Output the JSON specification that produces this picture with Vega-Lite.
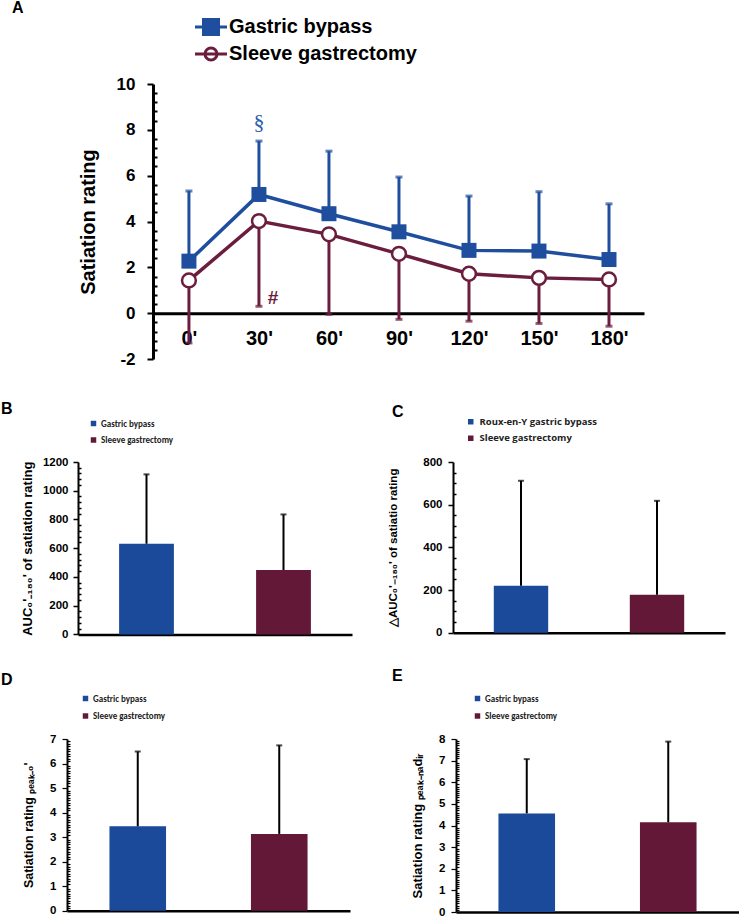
{
  "$schema": "https://vega.github.io/schema/vega-lite/v6.json",
  "padding": 0,
  "background": "white",
  "config": {
    "view": {"stroke": null},
    "font": "Liberation Sans",
    "axis": {"grid": false, "domainColor": "black", "tickColor": "black", "labelColor": "black", "titleColor": "black", "labelFont": "Liberation Sans", "titleFont": "Liberation Sans", "labelOverlap": false, "labelFlush": false},
    "title": {"font": "Liberation Sans", "fontWeight": "bold", "fontSize": 16, "anchor": "start", "frame": "group", "color": "black"}
  },
  "datasets": {
    "timecourse": [
      {"group": "Gastric bypass", "t": 0, "mean": 2.27, "hi": 5.33},
      {"group": "Gastric bypass", "t": 30, "mean": 5.18, "hi": 7.51},
      {"group": "Gastric bypass", "t": 60, "mean": 4.34, "hi": 7.07},
      {"group": "Gastric bypass", "t": 90, "mean": 3.55, "hi": 5.94},
      {"group": "Gastric bypass", "t": 120, "mean": 2.74, "hi": 5.11},
      {"group": "Gastric bypass", "t": 150, "mean": 2.71, "hi": 5.3},
      {"group": "Gastric bypass", "t": 180, "mean": 2.34, "hi": 4.77},
      {"group": "Sleeve gastrectomy", "t": 0, "mean": 1.43, "lo": -1.3},
      {"group": "Sleeve gastrectomy", "t": 30, "mean": 4.02, "lo": 0.3},
      {"group": "Sleeve gastrectomy", "t": 60, "mean": 3.44, "lo": -0.05},
      {"group": "Sleeve gastrectomy", "t": 90, "mean": 2.59, "lo": -0.27},
      {"group": "Sleeve gastrectomy", "t": 120, "mean": 1.72, "lo": -0.35},
      {"group": "Sleeve gastrectomy", "t": 150, "mean": 1.54, "lo": -0.45},
      {"group": "Sleeve gastrectomy", "t": 180, "mean": 1.47, "lo": -0.57}
    ],
    "signif": [
      {"label": "§", "t": 30, "y": 8.34},
      {"label": "#", "t": 30, "y": 0.65}
    ],
    "auc": [
      {"group": "Gastric bypass", "mean": 631, "upper": 1114},
      {"group": "Sleeve gastrectomy", "mean": 448, "upper": 835}
    ],
    "dauc": [
      {"group": "Roux-en-Y gastric bypass", "mean": 220, "upper": 712},
      {"group": "Sleeve gastrectomy", "mean": 178, "upper": 618}
    ],
    "peak0": [
      {"group": "Gastric bypass", "mean": 3.44, "upper": 6.49},
      {"group": "Sleeve gastrectomy", "mean": 3.13, "upper": 6.74}
    ],
    "peaknadir": [
      {"group": "Gastric bypass", "mean": 4.56, "upper": 7.07},
      {"group": "Sleeve gastrectomy", "mean": 4.15, "upper": 7.88}
    ],
    "empty": []
  },
  "spacing": 34,
  "resolve": {"scale": {"color": "independent"}},
  "vconcat": [
    {
      "spacing": 0,
      "resolve": {"scale": {"color": "independent"}},
      "hconcat": [
        {"width": 12, "height": 1, "data": {"name": "empty"}, "mark": {"type": "point", "opacity": 0}},
        {
          "width": 491,
          "height": 275,
          "title": {"text": "A", "dx": -141, "offset": 1},
          "data": {"name": "timecourse"},
          "encoding": {
            "x": {"field": "t", "type": "quantitative", "scale": {"domain": [-15.4, 195], "nice": false, "zero": false}, "title": null,
              "axis": {"values": [0, 30, 60, 90, 120, 150, 180], "labelExpr": "datum.value + \"'\"", "offset": -45.8, "domainWidth": 3, "ticks": false, "tickSize": 0, "labelFontSize": 20, "labelFontWeight": "bold", "labelPadding": 15, "title": null}},
            "y": {"field": "mean", "type": "quantitative", "scale": {"domain": [-2, 10], "nice": false, "zero": false}, "title": "Satiation rating",
              "axis": {"values": [-2, -1.6, -1.2, -0.8, -0.4, 0, 0.4, 0.8, 1.2, 1.6, 2, 2.4, 2.8, 3.2, 3.6, 4, 4.4, 4.8, 5.2, 5.6, 6, 6.4, 6.8, 7.2, 7.6, 8, 8.4, 8.8, 9.2, 9.6, 10],
                "labelExpr": "datum.value % 2 === 0 ? '' + datum.value : ''",
                "tickSize": {"condition": {"test": "datum.value % 2 === 0", "value": 6}, "value": -4},
                "tickWidth": 2, "domainWidth": 3, "labelFontSize": 17, "labelFontWeight": "bold", "labelPadding": 12,
                "titleFontSize": 20, "titleFontWeight": "bold", "titlePadding": 18, "title": "Satiation rating"}}
          },
          "layer": [
            {
              "mark": {"type": "line", "strokeWidth": 3.5},
              "encoding": {
                "color": {"field": "group", "type": "nominal", "scale": {"domain": ["Gastric bypass", "Sleeve gastrectomy"], "range": ["#1F4E9F", "#6B1D3D"]},
                  "legend": {"orient": "none", "legendX": 48, "legendY": -67, "title": null, "labelFont": "Liberation Sans", "labelFontSize": 20, "labelFontWeight": "bold", "labelColor": "black", "labelLimit": 400,
                    "symbolSize": 256, "symbolStrokeWidth": 3, "labelOffset": 8, "rowPadding": 1, "symbolType": "M-2,0H2",
                    "encode": {"symbols": {"update": {
                      "shape": {"signal": "datum.value === 'Gastric bypass' ? 'M-2,0H2M-0.94,-0.94H0.94V0.94H-0.94Z' : 'M-2,0H2M0.75,0A0.75,0.75,0,1,1,-0.75,0A0.75,0.75,0,1,1,0.75,0'"},
                      "fill": {"signal": "datum.value === 'Gastric bypass' ? '#1F4E9F' : 'white'"},
                      "stroke": {"signal": "datum.value === 'Gastric bypass' ? '#1F4E9F' : '#6B1D3D'"},
                      "strokeWidth": {"value": 3},
                      "opacity": {"value": 1},
                      "fillOpacity": {"value": 1}
                    }}}}}
              }
            },
            {
              "transform": [{"filter": "datum.group === 'Gastric bypass'"}],
              "mark": {"type": "rule", "color": "#1F4E9F", "strokeWidth": 3},
              "encoding": {"y2": {"field": "hi"}}
            },
            {
              "transform": [{"filter": "datum.group === 'Gastric bypass'"}],
              "mark": {"type": "tick", "color": "#1F4E9F", "orient": "horizontal", "size": 7, "thickness": 3},
              "encoding": {"y": {"field": "hi", "type": "quantitative", "title": "Satiation rating"}}
            },
            {
              "transform": [{"filter": "datum.group === 'Sleeve gastrectomy'"}],
              "mark": {"type": "rule", "color": "#6B1D3D", "strokeWidth": 3},
              "encoding": {"y": {"field": "lo", "type": "quantitative", "title": "Satiation rating"}, "y2": {"field": "mean"}}
            },
            {
              "transform": [{"filter": "datum.group === 'Sleeve gastrectomy'"}],
              "mark": {"type": "tick", "color": "#6B1D3D", "orient": "horizontal", "size": 7, "thickness": 3},
              "encoding": {"y": {"field": "lo", "type": "quantitative", "title": "Satiation rating"}}
            },
            {
              "transform": [{"filter": "datum.group === 'Gastric bypass'"}],
              "mark": {"type": "square", "size": 225, "filled": true, "color": "#1F4E9F", "opacity": 1}
            },
            {
              "transform": [{"filter": "datum.group === 'Sleeve gastrectomy'"}],
              "mark": {"type": "point", "shape": "circle", "size": 190, "filled": true, "fill": "white", "stroke": "#6B1D3D", "strokeWidth": 2.5, "opacity": 1}
            },
            {
              "data": {"name": "signif"},
              "transform": [{"filter": "datum.label === '§'"}],
              "mark": {"type": "text", "font": "Liberation Serif", "fontSize": 22, "color": "#2F5EAA", "baseline": "middle"},
              "encoding": {
                "y": {"field": "y", "type": "quantitative", "title": "Satiation rating"},
                "text": {"field": "label"}
              }
            },
            {
              "data": {"name": "signif"},
              "transform": [{"filter": "datum.label === '#'"}],
              "mark": {"type": "text", "font": "Liberation Sans", "fontWeight": "bold", "fontSize": 19, "color": "#6B1D3D", "baseline": "middle", "dx": 14},
              "encoding": {
                "y": {"field": "y", "type": "quantitative", "title": "Satiation rating"},
                "text": {"field": "label"}
              }
            }
          ]
        }
      ]
    },
    {
      "spacing": 28,
      "resolve": {"scale": {"color": "independent"}},
      "vconcat": [
        {
          "spacing": 0,
          "resolve": {"scale": {"color": "independent"}},
          "hconcat": [
            {"width": 1, "height": 1, "data": {"name": "empty"}, "mark": {"type": "point", "opacity": 0}},
            {
              "width": 274,
              "height": 172.4,
              "title": {"text": "B", "dx": -77, "offset": 2},
              "data": {"name": "auc"},
              "encoding": {
                "x": {"field": "group", "type": "nominal", "sort": null, "scale": {"paddingInner": 0.6, "paddingOuter": 0.3}, "axis": {"title": null, "labels": false, "ticks": false, "domainWidth": 2.5}},
                "y": {"field": "mean", "type": "quantitative", "scale": {"domain": [0, 1200], "nice": false}, "title": "AUC₀'₋₁₈₀' of satiation rating",
                  "axis": {"values": [0, 40, 80, 120, 160, 200, 240, 280, 320, 360, 400, 440, 480, 520, 560, 600, 640, 680, 720, 760, 800, 840, 880, 920, 960, 1000, 1040, 1080, 1120, 1160, 1200],
                    "labelExpr": "datum.value % 200 === 0 ? '' + datum.value : ''",
                    "tickSize": {"condition": {"test": "datum.value % 200 === 0", "value": 5}, "value": -3},
                    "tickWidth": 1.5, "domainWidth": 2, "labelFontSize": 11.5, "labelFontWeight": "bold", "labelPadding": 5,
                    "titleFontSize": 13, "titleFontWeight": "bold", "titlePadding": 8}}
              },
              "layer": [
                {
                  "mark": {"type": "bar"},
                  "encoding": {
                    "color": {"field": "group", "type": "nominal", "sort": null, "scale": {"domain": ["Gastric bypass", "Sleeve gastrectomy"], "range": ["#1B4A9A", "#621836"]},
                      "legend": {"orient": "none", "legendX": 11, "legendY": -43, "title": null, "symbolType": "square", "symbolSize": 30, "symbolStrokeWidth": 0, "labelFont": "Carlito, Liberation Sans", "labelFontSize": 9, "labelFontWeight": "bold", "labelColor": "#222222", "rowPadding": 6.5, "labelOffset": 3}}
                  }
                },
                {
                  "mark": {"type": "rule", "color": "black", "strokeWidth": 2},
                  "encoding": {"y2": {"field": "upper"}}
                },
                {
                  "mark": {"type": "tick", "color": "black", "orient": "horizontal", "size": 6, "thickness": 2},
                  "encoding": {"y": {"field": "upper", "type": "quantitative", "title": "AUC₀'₋₁₈₀' of satiation rating"}}
                }
              ]
            },
            {"width": 35, "height": 1, "data": {"name": "empty"}, "mark": {"type": "point", "opacity": 0}},
            {
              "width": 272,
              "height": 170.7,
              "title": {"text": "C", "dx": -61, "offset": -3},
              "data": {"name": "dauc"},
              "encoding": {
                "x": {"field": "group", "type": "nominal", "sort": null, "scale": {"paddingInner": 0.6, "paddingOuter": 0.3}, "axis": {"title": null, "labels": false, "ticks": false, "domainWidth": 2.5}},
                "y": {"field": "mean", "type": "quantitative", "scale": {"domain": [0, 800], "nice": false}, "title": "△AUC₀'₋₁₈₀' of satiatio rating",
                  "axis": {"values": [0, 50, 100, 150, 200, 250, 300, 350, 400, 450, 500, 550, 600, 650, 700, 750, 800],
                    "labelExpr": "datum.value % 200 === 0 ? '' + datum.value : ''",
                    "tickSize": {"condition": {"test": "datum.value % 200 === 0", "value": 5}, "value": -3},
                    "tickWidth": 1.5, "domainWidth": 2, "labelFontSize": 11.5, "labelFontWeight": "bold", "labelPadding": 6,
                    "titleFontSize": 11.5, "titleFontWeight": "bold", "titlePadding": 24}}
              },
              "layer": [
                {
                  "mark": {"type": "bar"},
                  "encoding": {
                    "color": {"field": "group", "type": "nominal", "sort": null, "scale": {"domain": ["Roux-en-Y gastric bypass", "Sleeve gastrectomy"], "range": ["#1B4A9A", "#621836"]},
                      "legend": {"orient": "none", "legendX": 13, "legendY": -45, "title": null, "symbolType": "square", "symbolSize": 30, "symbolStrokeWidth": 0, "labelFont": "Open Sans", "labelFontSize": 9.5, "labelFontWeight": "bold", "labelColor": "#222222", "rowPadding": 5.5, "labelOffset": 4}}
                  }
                },
                {
                  "mark": {"type": "rule", "color": "black", "strokeWidth": 2},
                  "encoding": {"y2": {"field": "upper"}}
                },
                {
                  "mark": {"type": "tick", "color": "black", "orient": "horizontal", "size": 6, "thickness": 2},
                  "encoding": {"y": {"field": "upper", "type": "quantitative", "title": "△AUC₀'₋₁₈₀' of satiatio rating"}}
                }
              ]
            }
          ]
        },
        {
          "spacing": 0,
          "resolve": {"scale": {"color": "independent"}},
          "hconcat": [
            {"width": 1, "height": 1, "data": {"name": "empty"}, "mark": {"type": "point", "opacity": 0}},
            {
              "width": 283,
              "height": 171.7,
              "title": {"text": "D", "dx": -66, "offset": 6},
              "data": {"name": "peak0"},
              "encoding": {
                "x": {"field": "group", "type": "nominal", "sort": null, "scale": {"paddingInner": 0.6, "paddingOuter": 0.3}, "axis": {"title": null, "labels": false, "ticks": false, "domainWidth": 2.5}},
                "y": {"field": "mean", "type": "quantitative", "scale": {"domain": [0, 7], "nice": false}, "title": "Satiation rating ₚₑₐₖ₋₀'",
                  "axis": {"values": [0, 0.1, 0.2, 0.3, 0.4, 0.5, 0.6, 0.7, 0.8, 0.9, 1, 1.1, 1.2, 1.3, 1.4, 1.5, 1.6, 1.7, 1.8, 1.9, 2, 2.1, 2.2, 2.3, 2.4, 2.5, 2.6, 2.7, 2.8, 2.9, 3, 3.1, 3.2, 3.3, 3.4, 3.5, 3.6, 3.7, 3.8, 3.9, 4, 4.1, 4.2, 4.3, 4.4, 4.5, 4.6, 4.7, 4.8, 4.9, 5, 5.1, 5.2, 5.3, 5.4, 5.5, 5.6, 5.7, 5.8, 5.9, 6, 6.1, 6.2, 6.3, 6.4, 6.5, 6.6, 6.7, 6.8, 6.9, 7],
                    "labelExpr": "datum.value % 1 === 0 ? '' + datum.value : ''",
                    "tickSize": {"condition": {"test": "datum.value % 1 === 0", "value": 5}, "value": -3},
                    "tickWidth": 1.2, "domainWidth": 2, "labelFontSize": 11.5, "labelFontWeight": "bold", "labelPadding": 6,
                    "titleFontSize": 12.5, "titleFontWeight": "bold", "titlePadding": 14}}
              },
              "layer": [
                {
                  "mark": {"type": "bar"},
                  "encoding": {
                    "color": {"field": "group", "type": "nominal", "sort": null, "scale": {"domain": ["Gastric bypass", "Sleeve gastrectomy"], "range": ["#1B4A9A", "#621836"]},
                      "legend": {"orient": "none", "legendX": 14, "legendY": -45, "title": null, "symbolType": "square", "symbolSize": 30, "symbolStrokeWidth": 0, "labelFont": "Carlito, Liberation Sans", "labelFontSize": 9, "labelFontWeight": "bold", "labelColor": "#222222", "rowPadding": 7.5, "labelOffset": 3}}
                  }
                },
                {
                  "mark": {"type": "rule", "color": "black", "strokeWidth": 2},
                  "encoding": {"y2": {"field": "upper"}}
                },
                {
                  "mark": {"type": "tick", "color": "black", "orient": "horizontal", "size": 6, "thickness": 2},
                  "encoding": {"y": {"field": "upper", "type": "quantitative", "title": "Satiation rating ₚₑₐₖ₋₀'"}}
                }
              ]
            },
            {"width": 42, "height": 1, "data": {"name": "empty"}, "mark": {"type": "point", "opacity": 0}},
            {
              "width": 283,
              "height": 173,
              "title": {"text": "E", "dx": -64, "offset": 10},
              "data": {"name": "peaknadir"},
              "encoding": {
                "x": {"field": "group", "type": "nominal", "sort": null, "scale": {"paddingInner": 0.6, "paddingOuter": 0.3}, "axis": {"title": null, "labels": false, "ticks": false, "domainWidth": 2.5}},
                "y": {"field": "mean", "type": "quantitative", "scale": {"domain": [0, 8], "nice": false}, "title": "Satiation rating ₚₑₐₖ₋ₙₐdᵢᵣ",
                  "axis": {"values": [0, 0.1, 0.2, 0.3, 0.4, 0.5, 0.6, 0.7, 0.8, 0.9, 1, 1.1, 1.2, 1.3, 1.4, 1.5, 1.6, 1.7, 1.8, 1.9, 2, 2.1, 2.2, 2.3, 2.4, 2.5, 2.6, 2.7, 2.8, 2.9, 3, 3.1, 3.2, 3.3, 3.4, 3.5, 3.6, 3.7, 3.8, 3.9, 4, 4.1, 4.2, 4.3, 4.4, 4.5, 4.6, 4.7, 4.8, 4.9, 5, 5.1, 5.2, 5.3, 5.4, 5.5, 5.6, 5.7, 5.8, 5.9, 6, 6.1, 6.2, 6.3, 6.4, 6.5, 6.6, 6.7, 6.8, 6.9, 7, 7.1, 7.2, 7.3, 7.4, 7.5, 7.6, 7.7, 7.8, 7.9, 8],
                    "labelExpr": "datum.value % 1 === 0 ? '' + datum.value : ''",
                    "tickSize": {"condition": {"test": "datum.value % 1 === 0", "value": 5}, "value": -3},
                    "tickWidth": 1.2, "domainWidth": 2, "labelFontSize": 11.5, "labelFontWeight": "bold", "labelPadding": 6,
                    "titleFontSize": 13, "titleFontWeight": "bold", "titlePadding": 14}}
              },
              "layer": [
                {
                  "mark": {"type": "bar"},
                  "encoding": {
                    "color": {"field": "group", "type": "nominal", "sort": null, "scale": {"domain": ["Gastric bypass", "Sleeve gastrectomy"], "range": ["#1B4A9A", "#621836"]},
                      "legend": {"orient": "none", "legendX": 17, "legendY": -45, "title": null, "symbolType": "square", "symbolSize": 30, "symbolStrokeWidth": 0, "labelFont": "Carlito, Liberation Sans", "labelFontSize": 9, "labelFontWeight": "bold", "labelColor": "#222222", "rowPadding": 7.5, "labelOffset": 3}}
                  }
                },
                {
                  "mark": {"type": "rule", "color": "black", "strokeWidth": 2},
                  "encoding": {"y2": {"field": "upper"}}
                },
                {
                  "mark": {"type": "tick", "color": "black", "orient": "horizontal", "size": 6, "thickness": 2},
                  "encoding": {"y": {"field": "upper", "type": "quantitative", "title": "Satiation rating ₚₑₐₖ₋ₙₐdᵢᵣ"}}
                }
              ]
            }
          ]
        }
      ]
    }
  ]
}
